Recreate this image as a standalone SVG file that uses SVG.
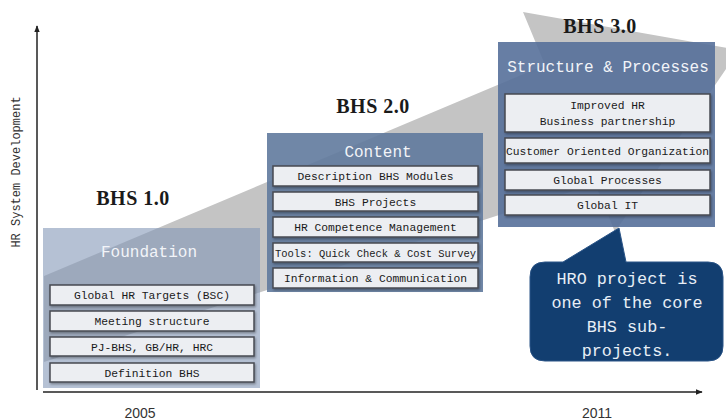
<svg xmlns="http://www.w3.org/2000/svg" width="726" height="420" viewBox="0 0 726 420">
<defs>
<marker id="ah" viewBox="0 0 10 10" refX="9" refY="5" markerWidth="7" markerHeight="7" orient="auto" markerUnits="userSpaceOnUse"><path d="M0,1 L10,5 L0,9 Z" fill="#222"/></marker>
<filter id="sh" x="-5%" y="-20%" width="110%" height="150%"><feDropShadow dx="1" dy="1.5" stdDeviation="1" flood-color="#000" flood-opacity="0.35"/></filter>
</defs>
<style>
.item{fill:#eceef2;stroke:#474a52;stroke-width:1.5}
.it{font-family:"Liberation Mono",monospace;font-size:11.3px;fill:#1a1a1a;text-anchor:middle}
.hd{font-family:"Liberation Mono",monospace;font-size:16px;fill:#f2f4f8;text-anchor:middle}
.ver{font-family:"Liberation Serif",serif;font-size:20px;font-weight:bold;fill:#1a1a1a;text-anchor:middle;letter-spacing:0.5px}
.yr{font-family:"Liberation Sans",sans-serif;font-size:14px;fill:#333;text-anchor:middle}
.co{font-family:"Liberation Mono",monospace;font-size:16.8px;fill:#e8eef6;text-anchor:middle}
</style>
<rect width="726" height="420" fill="#ffffff"/>
<polygon id="bigArrow" points="44,276 545,65 523,12 739,50 615,232 595,184 44,362" fill="#c4c4c4"/>
<g id="connectors">
<line x1="37" y1="390" x2="37" y2="26" stroke="#222" stroke-width="1.5" marker-end="url(#ah)"/>
<line x1="43" y1="392" x2="702" y2="392" stroke="#222" stroke-width="1.5" marker-end="url(#ah)"/>
</g>
<text x="20" y="172" transform="rotate(-90 20 172)" font-family="Liberation Mono, monospace" font-size="12" fill="#333" text-anchor="middle">HR System Development</text>
<text class="yr" x="140" y="418">2005</text>
<text class="yr" x="597" y="418">2011</text>
<g id="bhs10">
<text class="ver" x="133" y="205">BHS 1.0</text>
<rect x="43" y="228" width="217" height="160" fill="#8497b8" fill-opacity="0.6"/>
<text class="hd" x="149" y="257">Foundation</text>
<g filter="url(#sh)">
<rect class="item" x="50" y="285" width="204" height="20"/>
<rect class="item" x="50" y="311" width="204" height="20"/>
<rect class="item" x="50" y="337" width="204" height="19"/>
<rect class="item" x="50" y="363" width="204" height="19"/>
</g>
<text class="it" x="152" y="299">Global HR Targets (BSC)</text>
<text class="it" x="152" y="325">Meeting structure</text>
<text class="it" x="152" y="350.5">PJ-BHS, GB/HR, HRC</text>
<text class="it" x="152" y="376.5">Definition BHS</text>
</g>
<g id="bhs20">
<text class="ver" x="373" y="113">BHS 2.0</text>
<rect x="267" y="133" width="216" height="159" fill="#617a9d" fill-opacity="0.9"/>
<text class="hd" x="378" y="157">Content</text>
<g filter="url(#sh)">
<rect class="item" x="273" y="166" width="205" height="20"/>
<rect class="item" x="273" y="192" width="205" height="19"/>
<rect class="item" x="273" y="217" width="205" height="20"/>
<rect class="item" x="273" y="243" width="205" height="19"/>
<rect class="item" x="273" y="268" width="205" height="20"/>
</g>
<text class="it" x="375.5" y="180">Description BHS Modules</text>
<text class="it" x="375.5" y="205.5">BHS Projects</text>
<text class="it" x="375.5" y="231">HR Competence Management</text>
<text class="it" x="375.5" y="256.5" textLength="201" lengthAdjust="spacingAndGlyphs">Tools: Quick Check &amp; Cost Survey</text>
<text class="it" x="375.5" y="282">Information &amp; Communication</text>
</g>
<g id="bhs30">
<text class="ver" x="600" y="33">BHS 3.0</text>
<rect x="498" y="42" width="217" height="185" fill="#56709a" fill-opacity="0.9"/>
<text class="hd" x="608" y="72">Structure &amp; Processes</text>
<g filter="url(#sh)">
<rect class="item" x="505" y="94" width="205" height="38"/>
<rect class="item" x="505" y="138" width="205" height="25"/>
<rect class="item" x="505" y="170" width="205" height="20"/>
<rect class="item" x="505" y="195" width="205" height="20"/>
</g>
<text class="it" x="607.5" y="109">Improved HR</text>
<text class="it" x="607.5" y="125">Business partnership</text>
<text class="it" x="607.5" y="154.5" textLength="203" lengthAdjust="spacingAndGlyphs">Customer Oriented Organization</text>
<text class="it" x="607.5" y="184">Global Processes</text>
<text class="it" x="607.5" y="209">Global IT</text>
</g>
<g id="callout">
<path d="M545,262 L563,262 L619,228 L626,262 L708,262 Q723,262 723,277 L723,346 Q723,361 708,361 L545,361 Q530,361 530,346 L530,277 Q530,262 545,262 Z" fill="#123e70" stroke="#2a5487" stroke-width="1"/>
<text class="co" x="627" y="284">HRO project is</text>
<text class="co" x="627" y="308">one of the core</text>
<text class="co" x="627" y="332">BHS sub-</text>
<text class="co" x="627" y="356">projects.</text>
</g>
</svg>
